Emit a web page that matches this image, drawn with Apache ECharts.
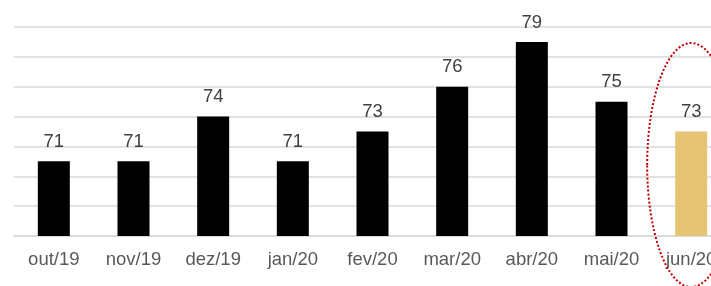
<!DOCTYPE html>
<html>
<head>
<meta charset="utf-8">
<script src="https://cdn.jsdelivr.net/npm/echarts@6/dist/echarts.min.js"></script>
<style>
  html, body { margin: 0; padding: 0; background: #fff; overflow: hidden; }
  #main { width: 711px; height: 286px; }
</style>
</head>
<body>
<div id="main"></div>
<script>
// meses e valores
var months = ['out/19', 'nov/19', 'dez/19', 'jan/20', 'fev/20', 'mar/20', 'abr/20', 'mai/20', 'jun/20'];
var values = [71, 71, 74, 71, 73, 76, 79, 75, 73];
var highlightIndex = 8; // último mês, em destaque

var chart = echarts.init(document.getElementById('main'));

var barData = values.map(function (v, i) {
    return {
        value: v,
        itemStyle: { color: i === highlightIndex ? '#E5C475' : '#000000' }
    };
});

chart.setOption({
    animation: false,
    grid: { left: 14, width: 717, top: 27, bottom: 50, outerBoundsMode: 'none', containLabel: false },
    xAxis: {
        type: 'category',
        data: months,
        axisLine: { lineStyle: { color: '#d9d9d9', width: 1.5 } },
        axisTick: { show: false },
        axisLabel: {
            color: '#595959',
            fontSize: 18.5,
            fontFamily: 'Liberation Sans, Arial, sans-serif',
            margin: 14,
            interval: 0
        }
    },
    yAxis: {
        type: 'value',
        min: 66,
        max: 80,
        interval: 2,
        axisLabel: { show: false },
        axisLine: { show: false },
        axisTick: { show: false },
        splitLine: { lineStyle: { color: '#d9d9d9', width: 1.5 } }
    },
    series: [{
        type: 'bar',
        data: barData,
        barWidth: 32,
        label: {
            show: true,
            position: 'top',
            distance: 10,
            color: '#404040',
            fontSize: 18.5,
            fontFamily: 'Liberation Sans, Arial, sans-serif'
        }
    }]
});

// elipse pontilhada em volta do último mês
var c = chart.convertToPixel({ xAxisIndex: 0, yAxisIndex: 0 }, [highlightIndex, 73]);
chart.setOption({
    graphic: [{
        type: 'ellipse',
        shape: { cx: c[0], cy: 165, rx: 44, ry: 122 },
        style: { fill: 'none', stroke: '#C00000', lineWidth: 2, lineDash: [2, 2] },
        z: 100
    }]
});
</script>
</body>
</html>
